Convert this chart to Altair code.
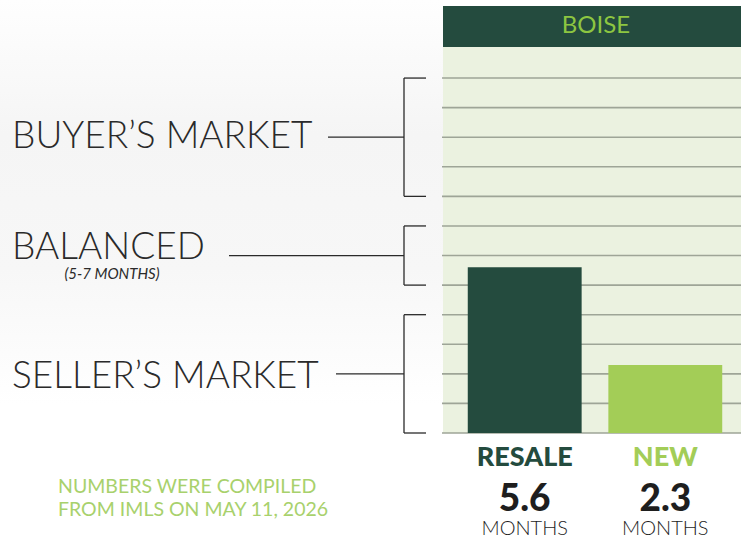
import altair as alt
import pandas as pd

# ---- data ----
categories = ["RESALE", "NEW"]
months = [5.6, 2.3]
value_labels = ["5.6", "2.3"]
market_names = ["BUYER\u2019S MARKET", "BALANCED", "SELLER\u2019S MARKET"]
market_low = [8, 5, 0]
market_high = [12, 7, 4]
market_mid = [10, 6, 2]
grid_values = list(range(0, 13))
city = "BOISE"
footnote = ["NUMBERS WERE COMPILED", "FROM IMLS ON MAY 11, 2026"]
balanced_note = "(5-7 MONTHS)"

# ---- style / layout ----
DARK = "#244b3e"
LIGHT = "#a3cd57"
PANEL = "#ebf2e0"
GRID = "#9ea597"
INK = "#2a2a2a"
FOOT = "#a8d16c"
W, H = 298, 386
PAD_L, PAD_T, PAD_B = 443, 47, 106
FONT = "Lato"
label_baseline_px = [148 - PAD_T, 259 - PAD_T, 388 - PAD_T]
connector_start_px = [328 - PAD_L, 229 - PAD_L, 336 - PAD_L]
BRACKET_X = 404 - PAD_L
TICK_X2 = 426 - PAD_L

bars = pd.DataFrame({"cat": categories, "months": months, "lab": value_labels})
markets = pd.DataFrame({
    "name": market_names, "low": market_low, "high": market_high, "mid": market_mid,
    "ty": label_baseline_px, "lx": connector_start_px,
})
grid_df = pd.DataFrame({"g": grid_values})

yscale = alt.Scale(domain=[0, 13.05], nice=False, zero=True)
xscale = alt.Scale(domain=categories, range=[6, W], paddingInner=0.19, paddingOuter=0.1335)
cscale = alt.Scale(domain=categories, range=[DARK, LIGHT])

# soft grey wash behind the left labels
wash = alt.Chart(pd.DataFrame({"t": [0]})).mark_rect(
    color=alt.Gradient(
        gradient="linear", x1=0, y1=0, x2=0, y2=1,
        stops=[alt.GradientStop(color="#fefefe", offset=0),
               alt.GradientStop(color="#f5f5f5", offset=0.25),
               alt.GradientStop(color="#f7f7f7", offset=0.5),
               alt.GradientStop(color="#ffffff", offset=0.75)],
    )
).encode(x=alt.value(-PAD_L), x2=alt.value(0), y=alt.value(-PAD_T), y2=alt.value(H + PAD_B))

grid = alt.Chart(grid_df).mark_rule(color=GRID, strokeWidth=1.6).encode(
    x=alt.value(-1), x2=alt.value(W), y=alt.Y("g:Q", scale=yscale, axis=None)
)

base = alt.Chart(bars)

bar_layer = base.mark_bar().encode(
    x=alt.X("cat:N", sort=categories, scale=xscale, axis=None),
    y=alt.Y("months:Q", scale=yscale, axis=None),
    color=alt.Color("cat:N", scale=cscale, legend=None),
)

cat_text = base.mark_text(font=FONT, fontSize=27, fontWeight=900, baseline="alphabetic").encode(
    x=alt.X("cat:N", sort=categories, scale=xscale),
    y=alt.value(466 - PAD_T),
    text="cat:N",
    color=alt.Color("cat:N", scale=cscale, legend=None),
)
val_text = base.mark_text(font=FONT, fontSize=37, fontWeight=900, color="#1e1e1e", baseline="alphabetic").encode(
    x=alt.X("cat:N", sort=categories, scale=xscale),
    y=alt.value(511 - PAD_T),
    text="lab:N",
)
unit_text = base.mark_text(font=FONT, fontSize=20, fontWeight=300, color="#1e1e1e", baseline="alphabetic").encode(
    x=alt.X("cat:N", sort=categories, scale=xscale),
    y=alt.value(535 - PAD_T),
    text=alt.value("MONTHS"),
)

header = alt.Chart(pd.DataFrame({"t": [city]}))
header_rect = header.mark_rect(color=DARK).encode(
    x=alt.value(0), x2=alt.value(W), y=alt.value(6 - PAD_T), y2=alt.value(0)
)
header_text = header.mark_text(font=FONT, fontSize=24, color="#8dc641", baseline="alphabetic").encode(
    x=alt.value(W / 2 + 4), y=alt.value(33 - PAD_T), text="t:N"
)

m = alt.Chart(markets)
vrule = m.mark_rule(color=INK, strokeWidth=1.3).encode(
    x=alt.value(BRACKET_X), y=alt.Y("low:Q", scale=yscale), y2="high:Q"
)
tick_lo = m.mark_rule(color=INK, strokeWidth=1.3).encode(
    x=alt.value(BRACKET_X), x2=alt.value(TICK_X2), y=alt.Y("low:Q", scale=yscale)
)
tick_hi = m.mark_rule(color=INK, strokeWidth=1.3).encode(
    x=alt.value(BRACKET_X), x2=alt.value(TICK_X2), y=alt.Y("high:Q", scale=yscale)
)
connector = m.mark_rule(color=INK, strokeWidth=1.3).encode(
    x=alt.X("lx:Q", scale=None), x2=alt.value(BRACKET_X), y=alt.Y("mid:Q", scale=yscale)
)
mlabels = m.mark_text(font=FONT, fontSize=37, fontWeight=300, color=INK, align="left",
                      baseline="alphabetic").encode(
    x=alt.value(12 - PAD_L), y=alt.Y("ty:Q", scale=None), text="name:N"
)

note = alt.Chart(pd.DataFrame({"t": [balanced_note]})).mark_text(
    font=FONT, fontSize=15, fontStyle="italic", color=INK, align="center", baseline="alphabetic"
).encode(x=alt.value(112 - PAD_L), y=alt.value(279 - PAD_T), text="t:N")

foot = alt.Chart(pd.DataFrame({"t": footnote, "fy": [493 - PAD_T, 516 - PAD_T]})).mark_text(
    font=FONT, fontSize=19.5, color=FOOT, align="left", baseline="alphabetic"
).encode(x=alt.value(58 - PAD_L), y=alt.Y("fy:Q", scale=None), text="t:N")

chart = alt.layer(
    wash, grid, bar_layer, cat_text, val_text, unit_text, header_rect, header_text,
    vrule, tick_lo, tick_hi, connector, mlabels, note, foot
).properties(
    width=W, height=H,
    autosize=alt.AutoSizeParams(type="none"),
    padding={"left": PAD_L, "top": PAD_T, "right": 0, "bottom": PAD_B},
    background="#ffffff",
).configure_view(fill=PANEL, stroke=None, clip=False)

chart.save("out.html", embed_options={"renderer": "svg", "actions": False})
